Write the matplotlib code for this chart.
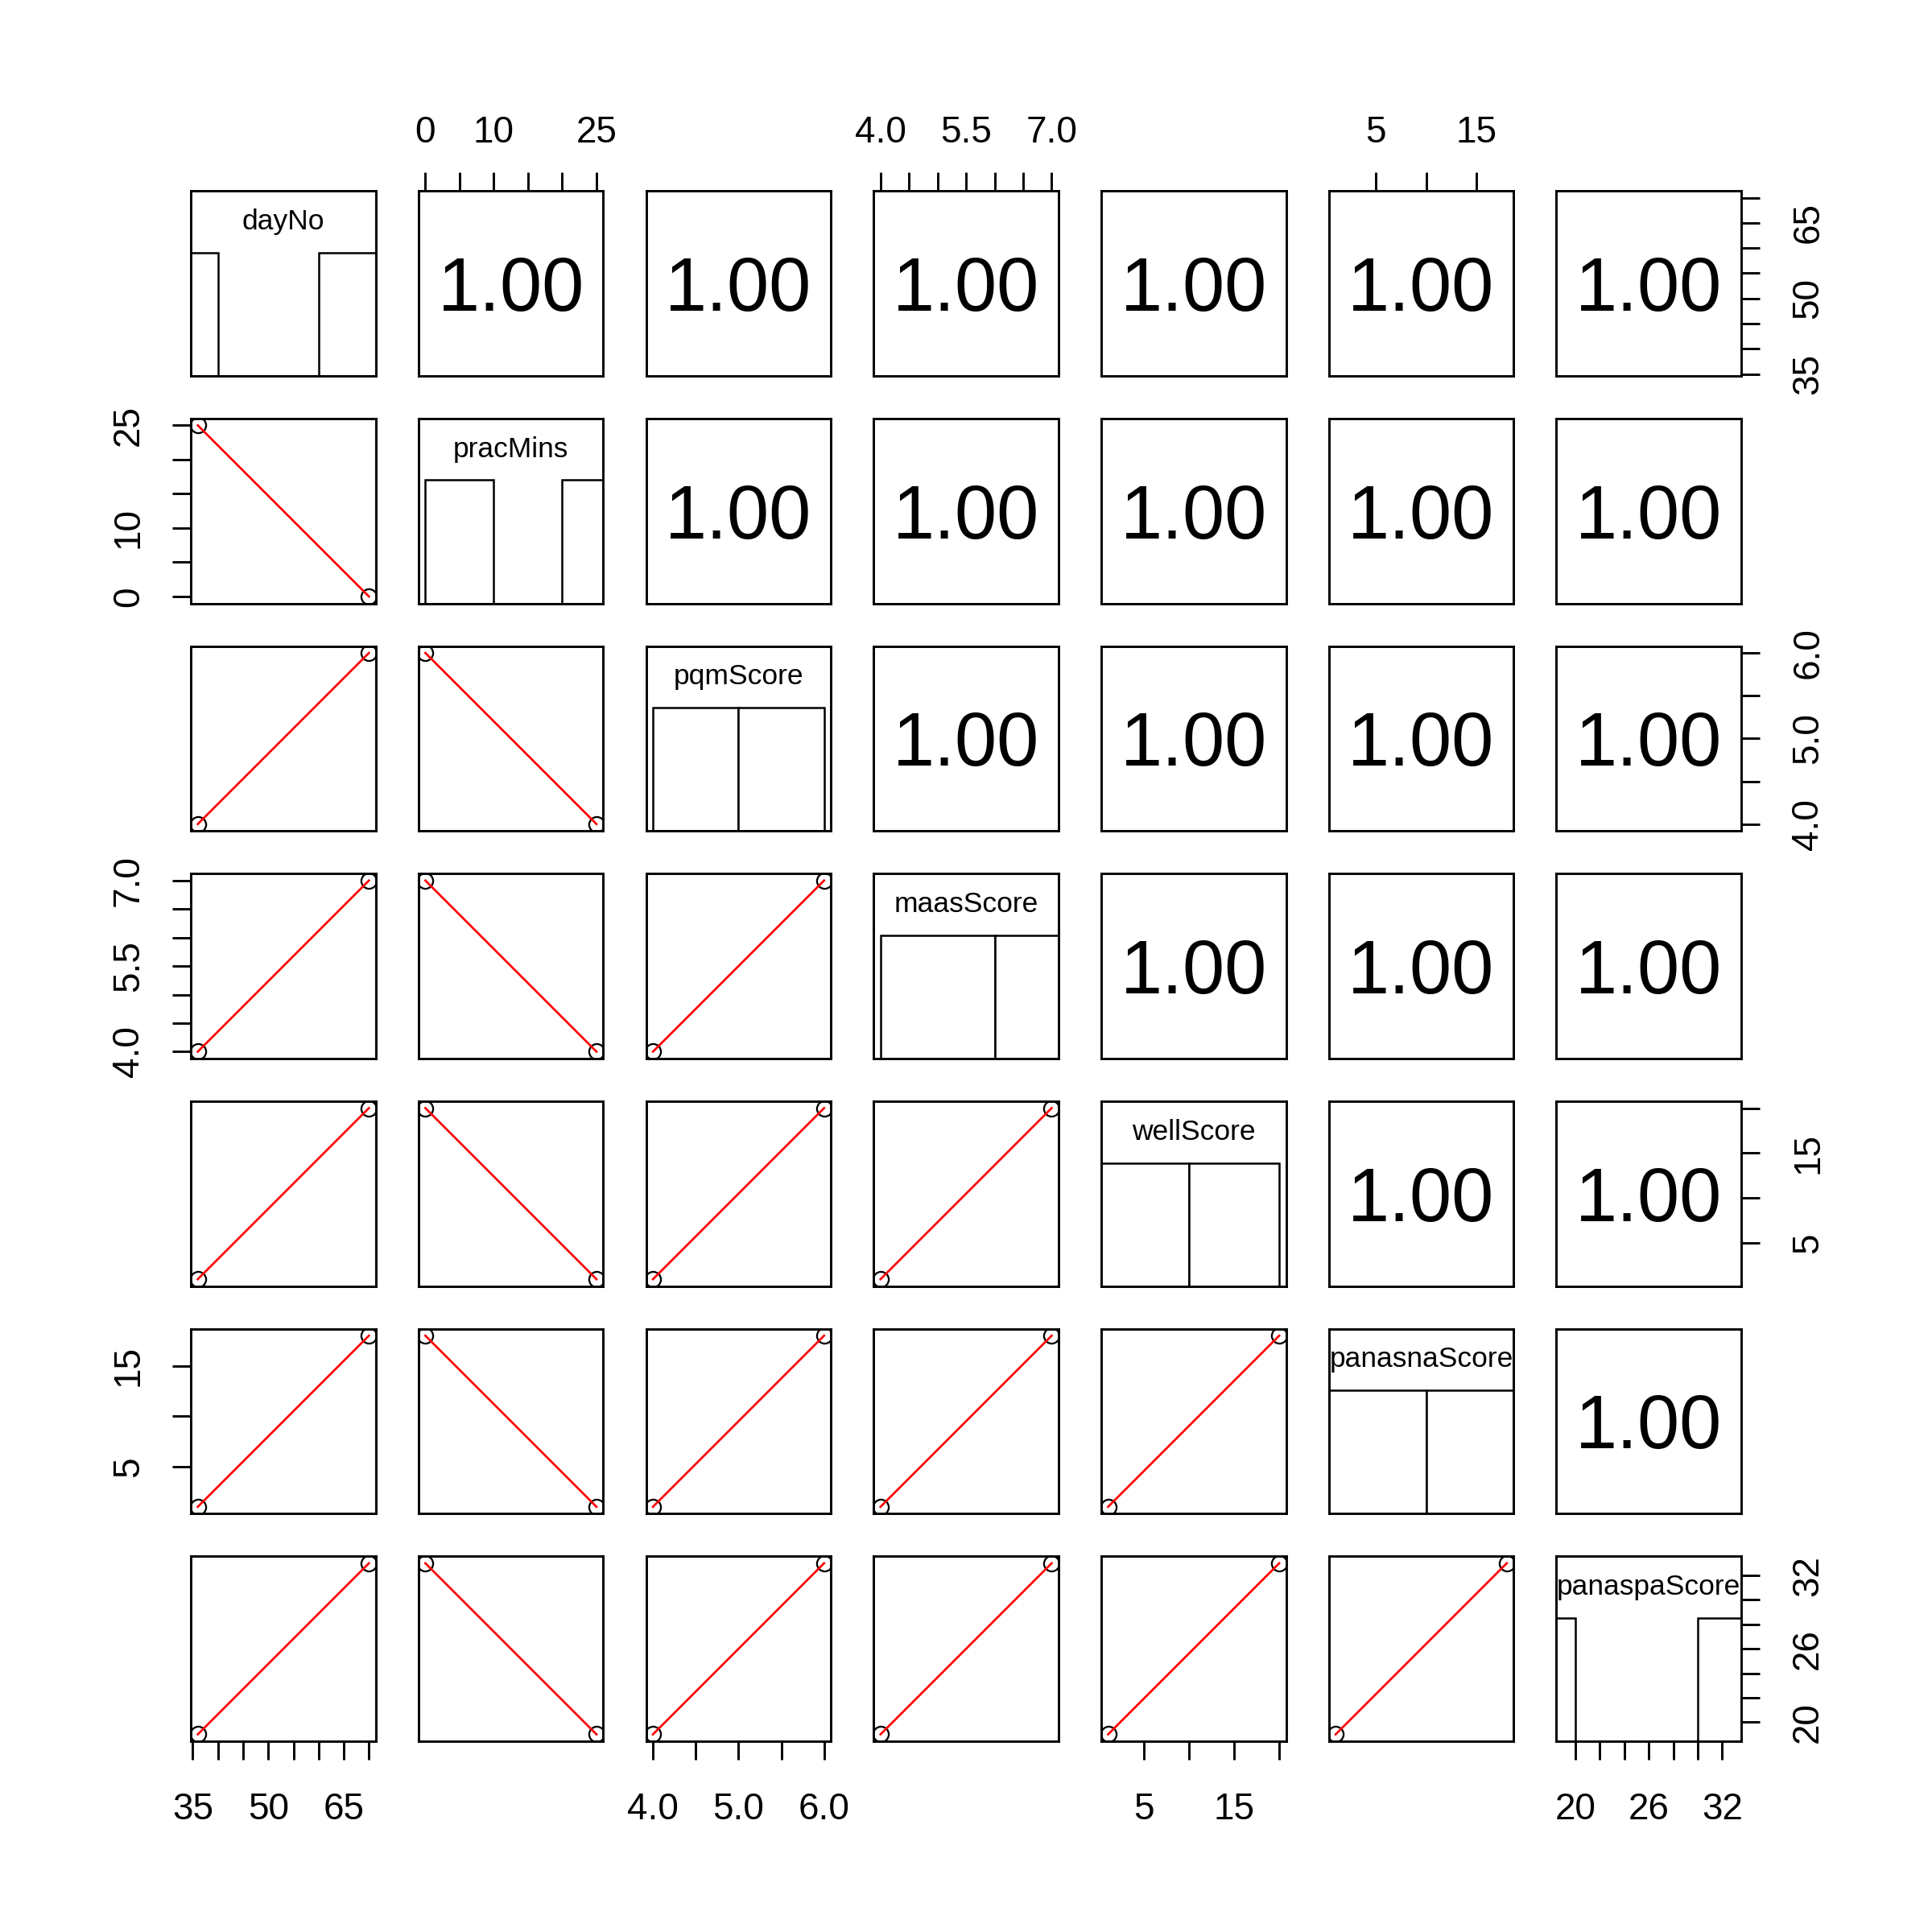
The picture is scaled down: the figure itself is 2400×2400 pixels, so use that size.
import numpy as np
import matplotlib
matplotlib.use("Agg")
import matplotlib.pyplot as plt
from matplotlib.patches import Rectangle
from matplotlib.transforms import blended_transform_factory

plt.rcParams["font.family"] = ["Liberation Sans", "DejaVu Sans"]

# two observations per variable
var_names = ["dayNo", "pracMins", "pqmScore", "maasScore", "wellScore", "panasnaScore", "panaspaScore"]
dayNo = [36, 70]
pracMins = [25, 0]
pqmScore = [4.0, 6.0]
maasScore = [4.0, 7.0]
wellScore = [1, 20]
panasnaScore = [1, 18]
panaspaScore = [19, 33]

# histogram breaks as R's hist() picked them
dayNo_breaks = [20, 40, 60, 80]
pracMins_breaks = [0, 10, 20, 30]
pqmScore_breaks = [4, 5, 6]
maasScore_breaks = [4, 6, 8]
wellScore_breaks = [0, 10, 20]
panasnaScore_breaks = [0, 10, 20]
panaspaScore_breaks = [10, 20, 30, 40]

# axis ticks and the labels R kept (blank = label dropped for overlap)
dayNo_ticks = [35, 40, 45, 50, 55, 60, 65, 70]
dayNo_ticklabels = ["35", "", "", "50", "", "", "65", ""]
pracMins_ticks = [0, 5, 10, 15, 20, 25]
pracMins_ticklabels = ["0", "", "10", "", "", "25"]
pqmScore_ticks = [4.0, 4.5, 5.0, 5.5, 6.0]
pqmScore_ticklabels = ["4.0", "", "5.0", "", "6.0"]
maasScore_ticks = [4.0, 4.5, 5.0, 5.5, 6.0, 6.5, 7.0]
maasScore_ticklabels = ["4.0", "", "", "5.5", "", "", "7.0"]
wellScore_ticks = [5, 10, 15, 20]
wellScore_ticklabels = ["5", "", "15", ""]
panasnaScore_ticks = [5, 10, 15]
panasnaScore_ticklabels = ["5", "", "15"]
panaspaScore_ticks = [20, 22, 24, 26, 28, 30, 32]
panaspaScore_ticklabels = ["20", "", "", "26", "", "", "32"]

data = {
    "dayNo": dayNo, "pracMins": pracMins, "pqmScore": pqmScore, "maasScore": maasScore,
    "wellScore": wellScore, "panasnaScore": panasnaScore, "panaspaScore": panaspaScore,
}
breaks = {
    "dayNo": dayNo_breaks, "pracMins": pracMins_breaks, "pqmScore": pqmScore_breaks,
    "maasScore": maasScore_breaks, "wellScore": wellScore_breaks,
    "panasnaScore": panasnaScore_breaks, "panaspaScore": panaspaScore_breaks,
}
ticks = {
    "dayNo": (dayNo_ticks, dayNo_ticklabels),
    "pracMins": (pracMins_ticks, pracMins_ticklabels),
    "pqmScore": (pqmScore_ticks, pqmScore_ticklabels),
    "maasScore": (maasScore_ticks, maasScore_ticklabels),
    "wellScore": (wellScore_ticks, wellScore_ticklabels),
    "panasnaScore": (panasnaScore_ticks, panasnaScore_ticklabels),
    "panaspaScore": (panaspaScore_ticks, panaspaScore_ticklabels),
}

FRAME_LW = 0.7
TICK_KW = dict(direction="out", length=5.5, width=FRAME_LW, labelsize=11)
PADS = {"top": 6.5, "bottom": 9.5, "left": 7.8, "right": 9.2}


def padded(values):
    lo, hi = min(values), max(values)
    ext = 0.04 * (hi - lo)
    return lo - ext, hi + ext


def set_xaxis(ax, name, side):
    if side is None:
        ax.set_xticks([])
        return
    t, lab = ticks[name]
    ax.set_xticks(t, lab)
    top = side == "top"
    ax.tick_params(axis="x", top=top, bottom=not top, labeltop=top, labelbottom=not top,
                   pad=PADS[side], **TICK_KW)


def set_yaxis(ax, name, side):
    if side is None:
        ax.set_yticks([])
        return
    t, lab = ticks[name]
    ax.set_yticks(t, lab)
    right = side == "right"
    ax.tick_params(axis="y", right=right, left=not right, labelright=right, labelleft=not right,
                   labelrotation=90, pad=PADS[side], **TICK_KW)
    for label in ax.get_yticklabels():
        label.set_verticalalignment("center")


fig = plt.figure(figsize=(8, 8), dpi=300)
n = len(var_names)
left0 = 237.2 / 2400
top0 = 237.2 / 2400
size = 229.6 / 2400
step = 282.7 / 2400

for i in range(n):
    for j in range(n):
        ax = fig.add_axes([left0 + j * step, 1 - top0 - i * step - size, size, size])
        xname, yname = var_names[j], var_names[i]
        x = np.array(data[xname], dtype=float)
        y = np.array(data[yname], dtype=float)
        ax.set_xlim(padded(x))
        ax.set_ylim(padded(y))
        for sp in ax.spines.values():
            sp.set_linewidth(FRAME_LW)

        if i == j:
            counts, edges = np.histogram(x, bins=breaks[xname])
            heights = counts / counts.max() / 1.5
            trans = blended_transform_factory(ax.transData, ax.transAxes)
            for k in range(len(counts)):
                ax.add_patch(Rectangle((edges[k], 0), edges[k + 1] - edges[k], heights[k],
                                       transform=trans, facecolor="white", edgecolor="black",
                                       linewidth=0.6))
            ax.text(0.5, 0.8333, xname, transform=ax.transAxes, ha="center", va="center",
                    fontsize=8.5)
        elif i > j:
            ax.plot(x, y, ls="none", marker="o", ms=4.6, mfc="none", mec="black", mew=0.55)
            order = np.argsort(x)
            ax.plot(x[order], y[order], color="#FF0000", lw=0.65)
        else:
            r = abs(np.corrcoef(x, y)[0, 1])
            ax.text(0.5, 0.352, f"{r:.2f}", transform=ax.transAxes, ha="center", va="baseline",
                    fontsize=22.5)

        xside = None
        if i == 0 and j % 2 == 1:
            xside = "top"
        elif i == n - 1 and j % 2 == 0:
            xside = "bottom"
        yside = None
        if j == 0 and i % 2 == 1:
            yside = "left"
        elif j == n - 1 and i % 2 == 0:
            yside = "right"
        set_xaxis(ax, xname, xside)
        set_yaxis(ax, yname, yside)

fig.savefig("out.png", dpi=300, facecolor="white")
